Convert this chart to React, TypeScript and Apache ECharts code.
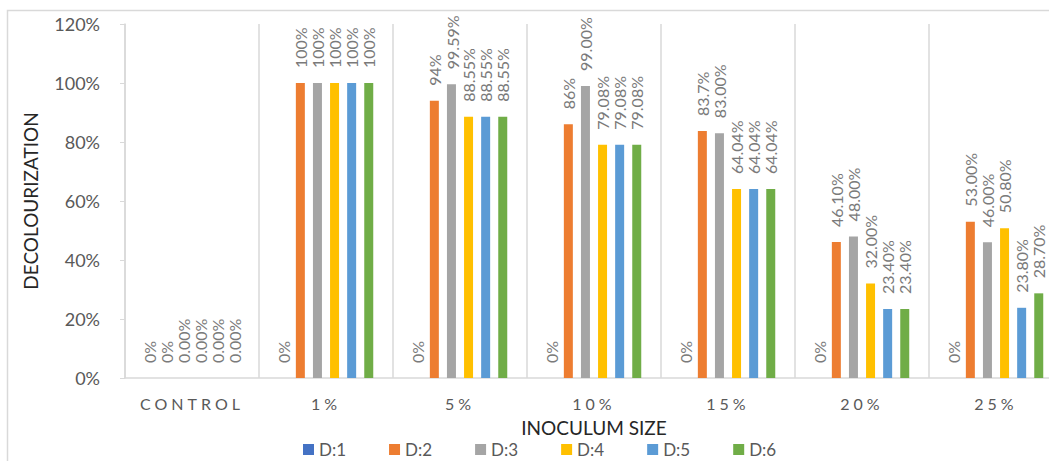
import React, { useEffect, useRef } from "react";
import * as echarts from "echarts";

// Inoculum size groups on the x axis
const categories = ["CONTROL", "1%", "5%", "10%", "15%", "20%", "25%"];
const seriesNames = ["D:1", "D:2", "D:3", "D:4", "D:5", "D:6"];
const seriesColors = ["#4472C4", "#ED7D31", "#A5A5A5", "#FFC000", "#5B9BD5", "#70AD47"];

// Decolourization (%) per dye for each inoculum size
const d1Values = [0, 0, 0, 0, 0, 0, 0];
const d2Values = [0, 100, 94, 86, 83.7, 46.1, 53];
const d3Values = [0, 100, 99.59, 99, 83, 48, 46];
const d4Values = [0, 100, 88.55, 79.08, 64.04, 32, 50.8];
const d5Values = [0, 100, 88.55, 79.08, 64.04, 23.4, 23.8];
const d6Values = [0, 100, 88.55, 79.08, 64.04, 23.4, 28.7];

// Number of decimals shown in each data label
const d1Decimals = [0, 0, 0, 0, 0, 0, 0];
const d2Decimals = [0, 0, 0, 0, 1, 2, 2];
const d3Decimals = [2, 0, 2, 2, 2, 2, 2];
const d4Decimals = [2, 0, 2, 2, 2, 2, 2];
const d5Decimals = [2, 0, 2, 2, 2, 2, 2];
const d6Decimals = [2, 0, 2, 2, 2, 2, 2];

// Value axis ticks
const yMin = 0;
const yMax = 120;
const yInterval = 20;

const allValues = [d1Values, d2Values, d3Values, d4Values, d5Values, d6Values];
const allDecimals = [d1Decimals, d2Decimals, d3Decimals, d4Decimals, d5Decimals, d6Decimals];

const FONT = "Lato, 'Open Sans', sans-serif";
const LABEL_TOP_LIMIT = 17;
const CATEGORY_ROW_TOP = 385;

export default function App() {
  const ref = useRef<HTMLDivElement>(null);

  useEffect(() => {
    if (!ref.current) return;
    const chart = echarts.init(ref.current, undefined, { renderer: "svg" });

    const series = seriesNames.map((name, si) => ({
      name,
      type: "bar",
      data: allValues[si],
      barWidth: 9,
      barGap: "90%",
      itemStyle: { color: seriesColors[si] },
      label: {
        show: true,
        position: "top",
        distance: 15,
        rotate: 90,
        align: "left",
        verticalAlign: "middle",
        color: "#7a7a7a",
        fontSize: 16,
        fontFamily: FONT,
        formatter: (p: any) =>
          `${Number(p.value).toFixed(allDecimals[si][p.dataIndex])}%`,
      },
      // keep the tallest rotated labels inside the chart frame
      labelLayout: (params: any) => {
        const r = params.labelRect;
        if (r && r.y < LABEL_TOP_LIMIT) return { dy: LABEL_TOP_LIMIT - r.y };
        return {};
      },
    }));

    chart.setOption({
      animation: false,
      backgroundColor: "#ffffff",
      color: seriesColors,
      textStyle: { fontFamily: FONT },
      graphic: [
        {
          type: "rect",
          shape: { x: 7.5, y: 10.5, width: 1100, height: 500 },
          style: { fill: "none", stroke: "#d9d9d9", lineWidth: 1.5 },
          silent: true,
        },
      ],
      grid: { left: 125, top: 24, width: 938, height: 354, containLabel: false },
      legend: {
        data: seriesNames,
        left: 298,
        top: 436,
        padding: 5,
        icon: "rect",
        itemWidth: 11,
        itemHeight: 11,
        itemGap: 43,
        textStyle: { color: "#595959", fontSize: 17, fontFamily: FONT },
      },
      xAxis: {
        type: "category",
        data: categories,
        name: "INOCULUM SIZE",
        nameLocation: "middle",
        nameGap: 40,
        nameTextStyle: { color: "#262626", fontSize: 19, fontFamily: FONT },
        axisLine: { lineStyle: { color: "#d9d9d9", width: 1.5 } },
        axisTick: { show: false },
        splitLine: { show: true, lineStyle: { color: "#d9d9d9", width: 1.5 } },
        axisLabel: { color: "#595959", fontSize: 16, margin: 17, fontFamily: FONT },
      },
      yAxis: {
        type: "value",
        min: yMin,
        max: yMax,
        interval: yInterval,
        name: "DECOLOURIZATION",
        nameLocation: "middle",
        nameRotate: 90,
        nameGap: 85,
        nameTextStyle: { color: "#262626", fontSize: 19, fontFamily: FONT },
        axisLine: { show: true, lineStyle: { color: "#d9d9d9", width: 1.5 } },
        axisTick: { show: true, length: 5, lineStyle: { color: "#d9d9d9" } },
        splitLine: { show: false },
        axisLabel: {
          formatter: "{value}%",
          color: "#595959",
          fontSize: 18,
          margin: 25,
          fontFamily: FONT,
        },
      },
      series,
    });

    // widen the x-axis category labels with letter spacing
    const labelSet = new Set(categories);
    const spaceOut = () => {
      ref.current?.querySelectorAll("text").forEach((t) => {
        const txt = (t.textContent || "").trim();
        if (!labelSet.has(txt)) return;
        if (t.getBoundingClientRect().top < CATEGORY_ROW_TOP) return;
        t.setAttribute("letter-spacing", "4");
        (t as SVGTextElement).style.letterSpacing = "4px";
      });
    };
    spaceOut();
    chart.on("finished", spaceOut);

    return () => chart.dispose();
  }, []);

  return (
    <div
      style={{
        position: "fixed",
        left: 0,
        top: 0,
        width: "100vw",
        height: "100vh",
        overflow: "hidden",
        background: "#ffffff",
      }}
    >
      <div ref={ref} style={{ width: 1080, height: 480 }} />
    </div>
  );
}
